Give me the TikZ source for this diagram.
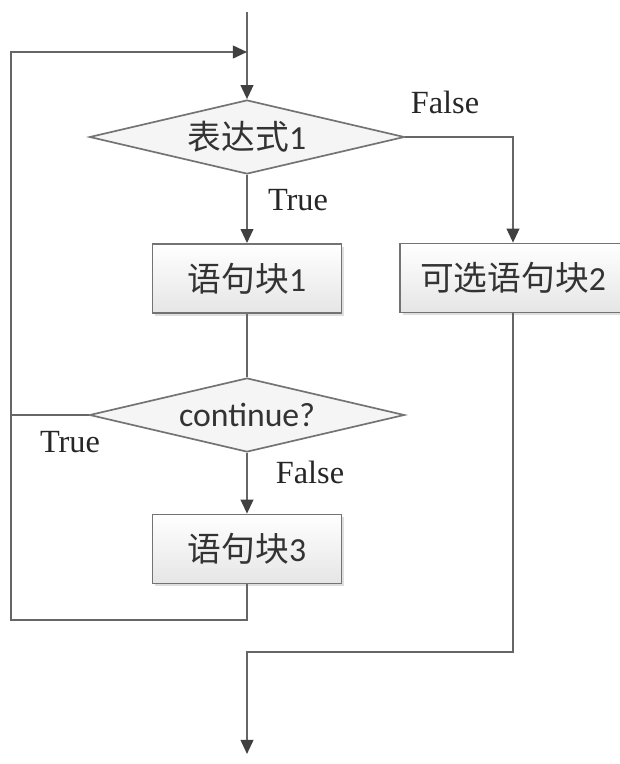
\documentclass[tikz,border=0pt]{standalone}
\usepackage{fontspec}
\setmainfont{Carlito}
\newfontfamily\cjk{Noto Sans CJK SC}
\newfontfamily\lbl{Liberation Serif}
\usetikzlibrary{shapes.geometric,arrows.meta,shadows}
\tikzset{
  flow/.style={draw=black!60, line width=1.4pt},
  tip/.style={-{Triangle[width=9pt,length=10pt,color=black!75]}},
  stmt/.style={rectangle, draw=black!55, line width=1.2pt, top color=white, bottom color=black!10,
    drop shadow={shadow xshift=2pt, shadow yshift=-2pt, opacity=0.25},
    minimum width=4.725cm, minimum height=1.725cm, text=black!80, font=\fontsize{24}{28}\selectfont},
  cond/.style={diamond, aspect=4.2, inner sep=0pt, draw=black!55, line width=1.2pt, fill=black!4,
    minimum width=7.875cm, minimum height=1.85cm, text=black!80, font=\fontsize{24}{28}\selectfont},
  tag/.style={font=\lbl\fontsize{23}{26}\selectfont, text=black!85},
}
\begin{document}
\begin{tikzpicture}
\useasboundingbox (0,0) rectangle (15.5,-19.1);
%节点
\node[cond] (d1) at (6.175,-3.425) {{\cjk 表达式}1};
\node[stmt] (b1) at (6.175,-6.96) {{\cjk 语句块}1};
\node[stmt, minimum width=5.65cm] (b2) at (12.825,-6.95) {{\cjk 可选语句块}2};
\node[cond] (d2) at (6.175,-10.375) {continue?};
\node[stmt] (b3) at (6.175,-13.725) {{\cjk 语句块}3};

%辅助点
\coordinate (s) at (6.175,-0.3);
\coordinate (j) at (6.175,-1.3);
\coordinate (lt) at (0.275,-1.3);
\coordinate (lb) at (0.275,-15.5);
\coordinate (m) at (6.175,-16.3);
\coordinate (e) at (6.175,-18.85);

%连线
\draw[flow,tip] (s) -- (d1.north);
\draw[flow,tip] (d1.south) -- (b1.north);
\draw[flow,tip] (d1.east) -| (b2.north);
\draw[flow] (b1.south) -- (d2.north);
\draw[flow,tip] (d2.south) -- (b3.north);
\draw[flow] (d2.west) -- (d2.west -| lt);
\draw[flow,tip] (b3.south) |- (lb) -- (lt) -- (j);
\draw[flow,tip] (b2.south) |- (m) -- (e);

%标签
\node[tag] at (11.125,-2.55) {False};
\node[tag] at (7.45,-5.0) {True};
\node[tag] at (1.75,-11.05) {True};
\node[tag] at (7.75,-11.8) {False};
\end{tikzpicture}
\end{document}
